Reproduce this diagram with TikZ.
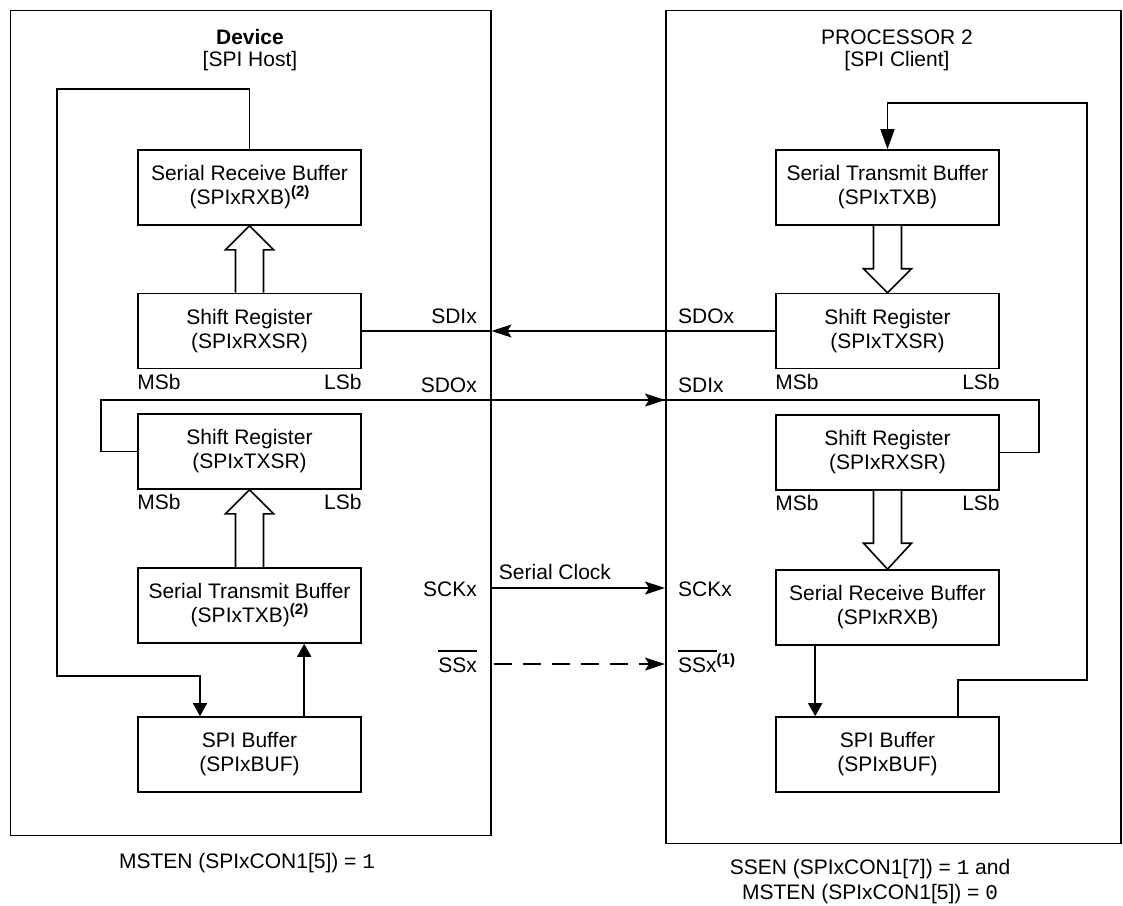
\documentclass[tikz,border=0pt]{standalone}
\usepackage{fontspec}
\setmainfont{Liberation Sans}
\setmonofont{Liberation Mono}
\usetikzlibrary{arrows.meta,calc}
\newcommand{\supnote}[1]{\raisebox{8pt}{\fontsize{15}{15}\selectfont\bfseries(#1)}}
\newcommand{\ovl}[1]{\setbox0\hbox{#1}\rlap{\rule[20.5pt]{\wd0}{1.3pt}}\box0}
\tikzset{
  every node/.style={font=\fontsize{21}{24}\selectfont, inner sep=0pt},
  blk/.style={draw, line width=1.6pt, minimum width=223pt, minimum height=75pt, align=center},
  frame/.style={draw, line width=1.5pt, anchor=north west},
  wire/.style={line width=1.6pt},
  harrow/.style={wire, -{Stealth[length=20pt,width=13pt,inset=4pt]}},
  varrow/.style={wire, -{Triangle[length=13pt,width=14pt]}},
  varrowlong/.style={wire, -{Triangle[length=20pt,width=14pt]}},
  hollow/.style={draw, line width=1.6pt, fill=white},
}
\begin{document}
\begin{tikzpicture}[x=1pt,y=-1pt]
\useasboundingbox (0,0) rectangle (1123,905);
% outer frames
\node[frame, minimum width=480.5pt, minimum height=825pt] (lbox) at (9.5,9.5) {};
\node[frame, minimum width=455pt, minimum height=833pt] (rbox) at (665,9.5) {};
% titles
\node[anchor=base, font=\fontsize{21}{24}\selectfont\bfseries] (t1) at (250,44) {Device};
\node[anchor=base] (t2) at (250,66) {[SPI Host]};
\node[anchor=base] (t3) at (897,44) {PROCESSOR 2};
\node[anchor=base] (t4) at (897,66) {[SPI Client]};
% left blocks
\node[blk] (lrxb) at (249.5,187.5) {Serial Receive Buffer\\(SPIxRXB)\supnote{2}};
\node[blk] (lrxsr) at (249.5,331) {Shift Register\\(SPIxRXSR)};
\node[blk] (ltxsr) at (249.5,451.5) {Shift Register\\(SPIxTXSR)};
\node[blk] (ltxb) at (249.5,605.5) {Serial Transmit Buffer\\(SPIxTXB)\supnote{2}};
\node[blk] (lbuf) at (249.5,754.5) {SPI Buffer\\(SPIxBUF)};
% right blocks
\node[blk] (rtxb) at (887.5,187.5) {Serial Transmit Buffer\\(SPIxTXB)};
\node[blk] (rtxsr) at (887.5,331) {Shift Register\\(SPIxTXSR)};
\node[blk] (rrxsr) at (887.5,452.5) {Shift Register\\(SPIxRXSR)};
\node[blk] (rrxb) at (887.5,607.5) {Serial Receive Buffer\\(SPIxRXB)};
\node[blk] (rbuf) at (887.5,754.5) {SPI Buffer\\(SPIxBUF)};
% MSb / LSb
\node[anchor=base west] (m1) at ($(lrxsr.south west)+(0,20)$) {MSb};
\node[anchor=base east] (l1) at ($(lrxsr.south east)+(0,20)$) {LSb};
\node[anchor=base west] (m2) at ($(ltxsr.south west)+(0,20)$) {MSb};
\node[anchor=base east] (l2) at ($(ltxsr.south east)+(0,20)$) {LSb};
\node[anchor=base west] (m3) at ($(rtxsr.south west)+(0,20)$) {MSb};
\node[anchor=base east] (l3) at ($(rtxsr.south east)+(0,20)$) {LSb};
\node[anchor=base west] (m4) at ($(rrxsr.south west)+(0,20)$) {MSb};
\node[anchor=base east] (l4) at ($(rrxsr.south east)+(0,20)$) {LSb};
% hollow arrows
\draw[hollow] ($(lrxsr.north)+(-14,0)$) -- ($(lrxb.south)+(-14,24)$) -- ($(lrxb.south)+(-24,24)$) -- (lrxb.south) -- ($(lrxb.south)+(24,24)$) -- ($(lrxb.south)+(14,24)$) -- ($(lrxsr.north)+(14,0)$);
\draw[hollow] ($(ltxb.north)+(-14,0)$) -- ($(ltxsr.south)+(-14,24)$) -- ($(ltxsr.south)+(-24,24)$) -- (ltxsr.south) -- ($(ltxsr.south)+(24,24)$) -- ($(ltxsr.south)+(14,24)$) -- ($(ltxb.north)+(14,0)$);
\draw[hollow] ($(rtxb.south)+(-14,0)$) -- ($(rtxsr.north)+(-14,-24)$) -- ($(rtxsr.north)+(-24,-24)$) -- (rtxsr.north) -- ($(rtxsr.north)+(24,-24)$) -- ($(rtxsr.north)+(14,-24)$) -- ($(rtxb.south)+(14,0)$);
\draw[hollow] ($(rrxsr.south)+(-14,0)$) -- ($(rrxb.north)+(-14,-26)$) -- ($(rrxb.north)+(-24,-26)$) -- (rrxb.north) -- ($(rrxb.north)+(24,-26)$) -- ($(rrxb.north)+(14,-26)$) -- ($(rrxsr.south)+(14,0)$);
% left loop
\coordinate (lloopA) at (57,89);
\coordinate (lloopB) at (200,676);
\draw[varrow] (lrxb.north) |- (lloopA) |- (lloopB) -- (lloopB |- lbuf.north);
\coordinate (lbufout) at ($(lbuf.north west)+(167,0)$);
\draw[varrow] (lbufout) -- (lbufout |- ltxb.south);
% right loop
\coordinate (rrxbout) at ($(rrxb.south west)+(40,0)$);
\draw[varrow] (rrxbout) -- (rrxbout |- rbuf.north);
\coordinate (rbufout) at ($(rbuf.north west)+(183,0)$);
\coordinate (rloopA) at (1087,680);
\coordinate (rloopB) at (rtxb.north |- 0,103);
\draw[varrowlong] (rbufout) |- (rloopA) |- (rloopB) -- (rtxb.north);
% SDO(P2) -> SDI(device)
\coordinate (sdiL) at (lbox.east |- rtxsr.west);
\draw[harrow] (rtxsr.west) -- (sdiL);
\draw[wire] (sdiL) -- (lrxsr.east);
% SDO(device) -> SDI(P2)
\coordinate (sdoA) at (101,400);
\coordinate (sdoB) at (1039,400);
\coordinate (sdoR) at (rbox.west |- sdoA);
\draw[wire] (ltxsr.west) -| (sdoA) -- (sdoB) |- (rrxsr.east);
\draw[harrow] (sdoA) -- (sdoR);
% SCK
\coordinate (sckL) at (lbox.east |- 0,588);
\coordinate (sckR) at (rbox.west |- 0,588);
\draw[harrow] (sckL) -- (sckR);
\node[anchor=base] (sckt) at (555,579) {Serial Clock};
% SS
\coordinate (ssL) at (lbox.east |- 0,664);
\coordinate (ssR) at (rbox.west |- 0,664);
\draw[harrow, dash pattern=on 18pt off 11pt, dash phase=-2pt] (ssL) -- (ssR);
% interface labels
\node[anchor=base east] (p1) at (477,323) {SDIx};
\node[anchor=base east] (p2) at (477,392) {SDOx};
\node[anchor=base east] (p3) at (477,596) {SCKx};
\node[anchor=base east] (p4) at (477,672) {\ovl{SSx}};
\node[anchor=base west] (q1) at (678,323) {SDOx};
\node[anchor=base west] (q2) at (678,392) {SDIx};
\node[anchor=base west] (q3) at (678,596) {SCKx};
\node[anchor=base west] (q4) at (678,672) {\ovl{SSx}\supnote{1}};
% bottom notes
\node[anchor=base] (n1) at (247,868) {MSTEN (SPIxCON1[5]) = \texttt{1}};
\node[anchor=base] (n2) at (870,874) {SSEN (SPIxCON1[7]) = \texttt{1} and};
\node[anchor=base] (n3) at (870,899) {MSTEN (SPIxCON1[5]) = \texttt{0}};
\end{tikzpicture}
\end{document}
